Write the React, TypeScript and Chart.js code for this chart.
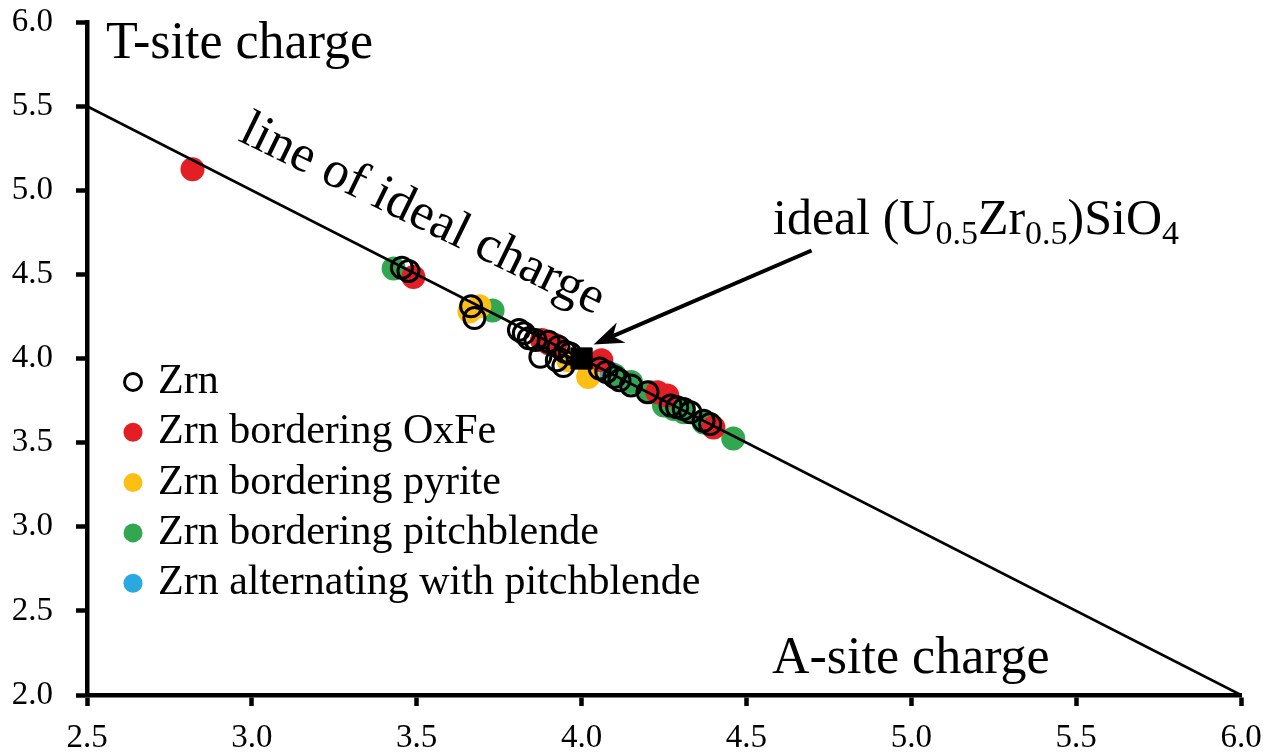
import React, { useEffect, useRef } from "react";
import { Chart, registerables } from "chart.js";

Chart.register(...registerables);

const FONT = "'Liberation Serif', 'Times New Roman', serif";

// Axis ticks
const xTickVals = [2.5, 3.0, 3.5, 4.0, 4.5, 5.0, 5.5, 6.0];
const yTickVals = [2.0, 2.5, 3.0, 3.5, 4.0, 4.5, 5.0, 5.5, 6.0];

// Line of ideal charge (A + T = 8)
const idealLineX = [2.5, 6.0];
const idealLineY = [5.5, 2.0];

// Ideal (U0.5Zr0.5)SiO4
const idealX = [4.0];
const idealY = [4.0];

// Zrn (open circles)
const zrnX = [3.455, 3.475, 3.665, 3.675, 3.81, 3.825, 3.84, 3.86, 3.875, 3.9, 3.925, 3.945, 3.93, 3.95, 3.965, 4.055, 4.075, 4.1, 4.115, 4.15, 4.2, 4.27, 4.29, 4.31, 4.33, 4.37, 4.39];
const zrnY = [4.54, 4.52, 4.31, 4.24, 4.17, 4.15, 4.12, 4.11, 4.01, 4.1, 3.99, 3.955, 4.07, 4.04, 4.03, 3.94, 3.92, 3.89, 3.87, 3.84, 3.8, 3.72, 3.71, 3.7, 3.68, 3.63, 3.61];

// Zrn bordering OxFe
const oxfeX = [2.82, 3.49, 3.88, 3.9, 3.92, 4.06, 4.23, 4.26, 4.4];
const oxfeY = [5.125, 4.485, 4.11, 4.09, 4.08, 3.99, 3.8, 3.78, 3.59];

// Zrn bordering pyrite
const pyriteX = [3.66, 3.69, 3.96, 4.02];
const pyriteY = [4.28, 4.31, 3.99, 3.89];

// Zrn bordering pitchblende
const pitchX = [3.43, 3.73, 4.1, 4.15, 4.21, 4.25, 4.28, 4.31, 4.37, 4.46];
const pitchY = [4.535, 4.285, 3.9, 3.86, 3.8, 3.72, 3.7, 3.68, 3.62, 3.525];

// Zrn alternating with pitchblende
const altX = [4.09];
const altY = [3.91];

const legendLabels = [
  "Zrn",
  "Zrn bordering OxFe",
  "Zrn bordering pyrite",
  "Zrn bordering pitchblende",
  "Zrn alternating with pitchblende",
];
const legendColors = ["open", "#E31E24", "#FDBF14", "#33A650", "#2AA9E0"];

function pts(xs: number[], ys: number[]) {
  return xs.map((x, i) => ({ x, y: ys[i] }));
}

const annotations = {
  id: "annotations",
  afterDatasetsDraw(chart: any) {
    const { ctx, scales } = chart;
    const xs = scales.x;
    const ys = scales.y;
    ctx.save();
    ctx.fillStyle = "#000";
    ctx.strokeStyle = "#000";
    ctx.textAlign = "left";
    ctx.textBaseline = "alphabetic";

    ctx.font = `52px ${FONT}`;
    ctx.fillText("T-site charge", 106, 58);
    ctx.fillText("A-site charge", 772, 673);

    // rotated label along the line
    ctx.save();
    ctx.translate(237, 140);
    ctx.rotate((26 * Math.PI) / 180);
    ctx.fillText("line of ideal charge", 0, 0);
    ctx.restore();

    // formula with subscripts
    const runs: [string, boolean][] = [
      ["ideal (U", false],
      ["0.5", true],
      ["Zr", false],
      ["0.5", true],
      [")SiO", false],
      ["4", true],
    ];
    let cx = 773;
    const base = 234;
    for (const [t, sub] of runs) {
      ctx.font = sub ? `34px ${FONT}` : `50px ${FONT}`;
      ctx.fillText(t, cx, base + (sub ? 10 : 0));
      cx += ctx.measureText(t).width;
    }

    // arrow pointing at the ideal point
    const px = xs.getPixelForValue(idealX[0]);
    const py = ys.getPixelForValue(idealY[0]);
    const tip = { x: px + 12, y: py - 14 };
    const tail = { x: px + 230, y: py - 108 };
    const ang = Math.atan2(tip.y - tail.y, tip.x - tail.x);
    const headLen = 30;
    const headHalf = 11;
    const back = { x: tip.x - Math.cos(ang) * headLen, y: tip.y - Math.sin(ang) * headLen };
    const notch = { x: tip.x - Math.cos(ang) * headLen * 0.7, y: tip.y - Math.sin(ang) * headLen * 0.7 };
    ctx.lineWidth = 4;
    ctx.beginPath();
    ctx.moveTo(tail.x, tail.y);
    ctx.lineTo(notch.x, notch.y);
    ctx.stroke();
    ctx.beginPath();
    ctx.moveTo(tip.x, tip.y);
    ctx.lineTo(back.x + Math.sin(ang) * headHalf, back.y - Math.cos(ang) * headHalf);
    ctx.lineTo(notch.x, notch.y);
    ctx.lineTo(back.x - Math.sin(ang) * headHalf, back.y + Math.cos(ang) * headHalf);
    ctx.closePath();
    ctx.fill();

    // legend
    ctx.font = `42px ${FONT}`;
    legendLabels.forEach((label, i) => {
      const baseline = 393 + i * 50.3;
      const my = baseline - 11;
      const mx = 133;
      const c = legendColors[i];
      ctx.beginPath();
      if (c === "open") {
        ctx.arc(mx, my, 8.5, 0, Math.PI * 2);
        ctx.lineWidth = 3;
        ctx.strokeStyle = "#000";
        ctx.stroke();
      } else {
        ctx.arc(mx, my, 9.5, 0, Math.PI * 2);
        ctx.fillStyle = c;
        ctx.fill();
      }
      ctx.fillStyle = "#000";
      ctx.fillText(label, 158, baseline);
    });
    ctx.restore();
  },
};

export default function App() {
  const ref = useRef<HTMLCanvasElement | null>(null);
  useEffect(() => {
    if (!ref.current) return;
    const filled = (label: string, color: string, xs: number[], ys: number[], order: number) => ({
      label,
      data: pts(xs, ys),
      pointRadius: 12,
      pointBackgroundColor: color,
      pointBorderWidth: 0,
      pointBorderColor: color,
      showLine: false,
      order,
    });
    const axisCommon = {
      type: "linear" as const,
      grid: {
        display: true,
        drawOnChartArea: false,
        drawTicks: true,
        tickLength: 11,
        tickWidth: 4.5,
        tickColor: "#000",
        color: "#000",
      },
      border: { display: true, color: "#000", width: 4.5 },
    };
    const chart = new Chart(ref.current, {
      type: "scatter",
      data: {
        datasets: [
          {
            label: "ideal (U0.5Zr0.5)SiO4",
            data: pts(idealX, idealY),
            pointStyle: "rect",
            pointRadius: 15,
            pointBackgroundColor: "#000",
            pointBorderColor: "#000",
            pointBorderWidth: 1,
            order: 0,
          },
          {
            label: "line of ideal charge",
            data: pts(idealLineX, idealLineY),
            showLine: true,
            borderColor: "#000",
            borderWidth: 2.7,
            pointRadius: 0,
            order: 1,
          },
          {
            label: legendLabels[0],
            data: pts(zrnX, zrnY),
            pointRadius: 10.5,
            pointBackgroundColor: "rgba(0,0,0,0)",
            pointBorderColor: "#000",
            pointBorderWidth: 3,
            order: 2,
          },
          filled(legendLabels[1], legendColors[1], oxfeX, oxfeY, 3),
          filled(legendLabels[2], legendColors[2], pyriteX, pyriteY, 4),
          filled(legendLabels[3], legendColors[3], pitchX, pitchY, 5),
          filled(legendLabels[4], legendColors[4], altX, altY, 6),
        ] as any,
      },
      options: {
        animation: false,
        responsive: true,
        maintainAspectRatio: false,
        events: [],
        layout: { padding: { top: 22, right: 33, left: 0, bottom: 0 } },
        plugins: { legend: { display: false }, tooltip: { enabled: false } },
        scales: {
          x: {
            ...axisCommon,
            min: 2.5,
            max: 6.0,
            afterBuildTicks: (s: any) => {
              s.ticks = xTickVals.map((v) => ({ value: v }));
            },
            afterFit: (s: any) => {
              s.height = 60;
              s.paddingLeft = 0;
              s.paddingRight = 0;
            },
            ticks: {
              autoSkip: false,
              maxRotation: 0,
              padding: 13,
              color: "#000",
              font: { family: FONT, size: 33 },
              callback: (v: any) => Number(v).toFixed(1),
            },
          },
          y: {
            ...axisCommon,
            min: 2.0,
            max: 6.0,
            afterBuildTicks: (s: any) => {
              s.ticks = yTickVals.map((v) => ({ value: v }));
            },
            afterFit: (s: any) => {
              s.width = 87;
              s.paddingTop = 0;
              s.paddingBottom = 0;
            },
            ticks: {
              autoSkip: false,
              padding: 23,
              color: "#000",
              font: { family: FONT, size: 33 },
              callback: (v: any) => Number(v).toFixed(1),
            },
          },
        } as any,
      },
      plugins: [annotations],
    });
    return () => chart.destroy();
  }, []);

  return (
    <div style={{ position: "fixed", left: 0, top: 0, width: "1274px", height: "755px", background: "#fff" }}>
      <canvas ref={ref} />
    </div>
  );
}
